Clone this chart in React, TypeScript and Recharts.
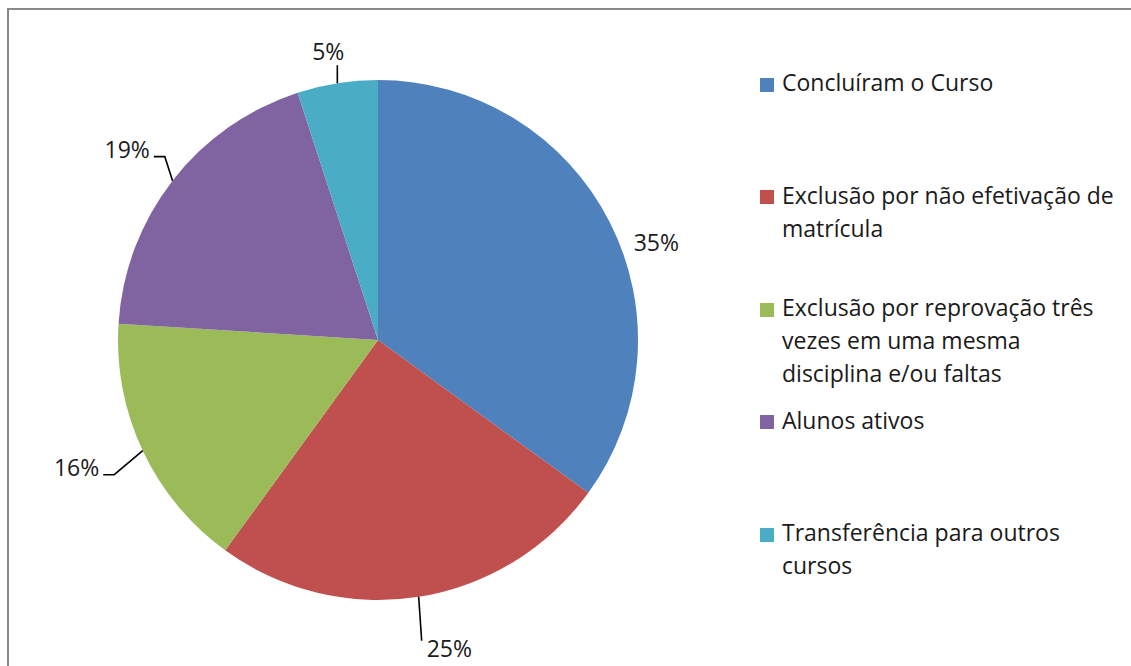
import { PieChart, Pie, Cell, Legend } from 'recharts';

const categories = [
  'Concluíram o Curso',
  'Exclusão por não efetivação de matrícula',
  'Exclusão por reprovação três vezes em uma mesma disciplina e/ou faltas',
  'Alunos ativos',
  'Transferência para outros cursos',
];

// how the legend text breaks into lines
const legendLines = [
  ['Concluíram o Curso'],
  ['Exclusão por não efetivação de', 'matrícula'],
  ['Exclusão por reprovação três', 'vezes em uma mesma', 'disciplina e/ou faltas'],
  ['Alunos ativos'],
  ['Transferência para outros', 'cursos'],
];

const shares = [35, 25, 16, 19, 5];

const colors = ['#4F81BD', '#C0504D', '#9BBB59', '#8064A2', '#4BACC6'];

const data = categories.map((name, i) => ({ name, value: shares[i] }));

const FONT = '"Open Sans", sans-serif';
const RAD = Math.PI / 180;

function renderLabel(props: any) {
  const { cx, cy, midAngle, outerRadius, value } = props;
  const sx = Math.cos(-midAngle * RAD);
  const sy = Math.sin(-midAngle * RAD);
  const ex = cx + outerRadius * sx;
  const ey = cy + outerRadius * sy;
  const txt = `${value}%`;
  const textProps = { fontFamily: FONT, fontSize: 23, fill: '#1a1a1a' };
  const lineProps = { stroke: '#000', strokeWidth: 1.6, fill: 'none' };

  if (Math.abs(sx) < 0.25) {
    if (sy < 0) {
      const y2 = ey - 18;
      return (
        <g>
          <line x1={ex} y1={ey} x2={ex} y2={y2} {...lineProps} />
          <text x={ex + 7} y={y2 - 5} textAnchor="end" {...textProps}>{txt}</text>
        </g>
      );
    }
    const x2 = ex + 3;
    const y2 = ey + 44;
    return (
      <g>
        <line x1={ex} y1={ey} x2={x2} y2={y2} {...lineProps} />
        <text x={x2 + 5} y={y2 + 16} textAnchor="start" {...textProps}>{txt}</text>
      </g>
    );
  }

  if (sx > 0) {
    return (
      <text x={ex + 24} y={ey + 29} textAnchor="start" {...textProps}>{txt}</text>
    );
  }

  // left side: short bent leader line
  const mx = ex - 20 - 20 * sy;
  const my = ey + Math.sign(sy) * 24;
  const tx = mx - 11;
  return (
    <g>
      <path d={`M${ex},${ey}L${mx},${my}L${tx},${my}`} {...lineProps} />
      <text x={tx - 4} y={my + 1.5} textAnchor="end" {...textProps}>{txt}</text>
    </g>
  );
}

function LegendBox() {
  return (
    <div style={{ fontFamily: FONT, fontSize: 23, lineHeight: '33px', color: '#1a1a1a' }}>
      {legendLines.map((lines, i) => (
        <div key={categories[i]} style={{ position: 'relative', height: 112.5 }}>
          <span
            style={{
              position: 'absolute',
              left: 0,
              top: 11.5,
              width: 14,
              height: 14,
              background: colors[i],
            }}
          />
          <div style={{ position: 'absolute', left: 22, top: 0, whiteSpace: 'nowrap' }}>
            {lines.map((l) => (
              <div key={l}>{l}</div>
            ))}
          </div>
        </div>
      ))}
    </div>
  );
}

export default function App() {
  return (
    <div style={{ position: 'absolute', left: 0, top: 0, width: 1131, height: 666, background: '#fff', overflow: 'hidden' }}>
      <div
        style={{
          position: 'absolute',
          left: 7,
          top: 8,
          width: 1200,
          height: 720,
          borderTop: '2px solid #888',
          borderLeft: '2px solid #888',
        }}
      />
      <div style={{ position: 'absolute', left: 0, top: 0 }}>
        <PieChart width={1131} height={666} margin={{ top: 0, right: 0, bottom: 0, left: 0 }}>
          <Pie
            data={data}
            dataKey="value"
            nameKey="name"
            cx={378}
            cy={340}
            outerRadius={260}
            startAngle={90}
            endAngle={-270}
            stroke="none"
            label={renderLabel}
            labelLine={false}
            isAnimationActive={false}
          >
            {data.map((d, i) => (
              <Cell key={d.name} fill={colors[i]} />
            ))}
          </Pie>
          <Legend
            layout="vertical"
            align="right"
            verticalAlign="top"
            content={() => <LegendBox />}
            wrapperStyle={{ left: 760, top: 66, width: 360, height: 560 }}
          />
        </PieChart>
      </div>
    </div>
  );
}
